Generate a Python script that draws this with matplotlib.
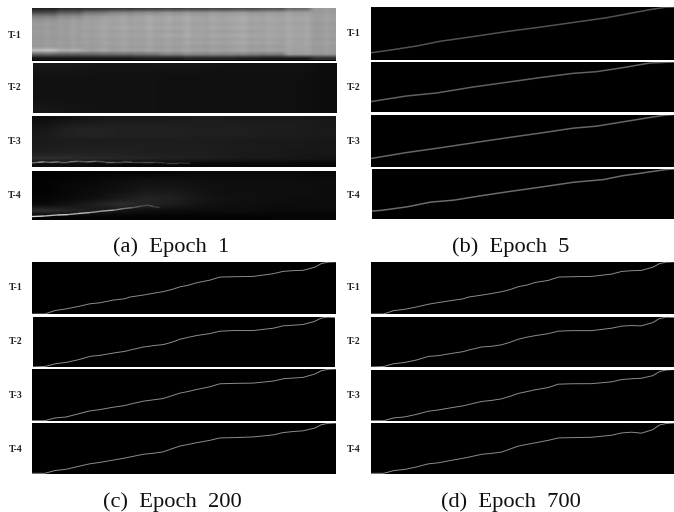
import matplotlib
matplotlib.use('Agg')
import matplotlib.pyplot as plt
import numpy as np

W, H = 674, 512

# epoch 1 heat maps, rows go top to bottom, values are gray levels
t1_map = [
    [.13,.17,.20,.22,.24,.26,.27,.28,.30,.33,.42,.60],
    [.30,.38,.46,.52,.55,.57,.58,.59,.59,.60,.61,.60],
    [.50,.55,.60,.62,.63,.64,.64,.64,.64,.64,.64,.62],
    [.58,.61,.63,.64,.65,.65,.65,.65,.65,.65,.65,.62],
    [.61,.62,.63,.63,.63,.63,.63,.63,.63,.63,.63,.60],
    [.60,.62,.64,.65,.65,.65,.65,.65,.65,.65,.65,.62],
    [.61,.62,.62,.62,.62,.62,.63,.62,.62,.63,.63,.60],
    [.60,.62,.64,.64,.64,.65,.65,.65,.65,.65,.65,.62],
    [.60,.61,.62,.62,.62,.62,.62,.62,.62,.62,.63,.60],
    [.61,.62,.63,.63,.63,.63,.64,.64,.64,.64,.64,.62],
    [.60,.61,.61,.61,.61,.61,.61,.61,.61,.61,.63,.60],
    [.74,.68,.64,.63,.63,.63,.63,.63,.63,.63,.63,.61],
    [.40,.38,.40,.42,.44,.50,.52,.52,.50,.48,.60,.58],
    [.08,.09,.10,.10,.12,.12,.14,.14,.12,.10,.10,.18],
]
t1_stripes = [1.0,.99,1.02,.99,1.0,.98,1.02,.99,1.0,.98,1.0,1.03,.99,1.0,1.03,.99,
              1.0,.99,1.04,1.0,.99,1.03,.99,1.0,1.04,.99,1.0,.98,1.02,1.0,.99,1.01,
              1.02,1.04,.99,1.0,.99,1.02,1.0,.99,1.03,1.0,1.0,1.02,1.0,1.0,1.03,1.0]
t2_map = [
    [.09,.09,.08,.08,.08,.08,.08,.07,.07,.07,.07,.05],
    [.07,.07,.07,.07,.07,.06,.06,.06,.06,.06,.06,.05],
    [.07,.07,.07,.07,.07,.06,.06,.06,.06,.06,.06,.05],
    [.07,.07,.07,.07,.07,.06,.06,.06,.06,.06,.06,.05],
    [.07,.07,.07,.07,.07,.06,.06,.06,.06,.06,.06,.05],
    [.09,.08,.07,.07,.07,.06,.06,.06,.06,.06,.06,.05],
]
t3_map = [
    [.05,.07,.09,.10,.10,.10,.11,.11,.10,.10,.10,.09],
    [.07,.10,.11,.12,.12,.12,.12,.12,.11,.11,.11,.10],
    [.09,.13,.14,.13,.13,.13,.12,.12,.12,.11,.11,.10],
    [.10,.13,.14,.13,.13,.13,.12,.12,.12,.11,.11,.10],
    [.10,.11,.11,.11,.11,.11,.11,.11,.10,.10,.10,.09],
    [.11,.12,.12,.12,.12,.12,.12,.11,.11,.10,.10,.09],
    [.12,.13,.13,.13,.12,.12,.12,.11,.10,.10,.09,.09],
    [.18,.17,.16,.15,.14,.13,.12,.11,.10,.10,.09,.08],
    [.05,.05,.04,.03,.03,.03,.03,.03,.03,.03,.03,.03],
]
t4_map = [
    [.00,.01,.01,.02,.02,.03,.04,.04,.04,.04,.04,.03],
    [.01,.02,.03,.05,.06,.06,.06,.05,.05,.05,.05,.05],
    [.01,.03,.04,.06,.08,.08,.07,.06,.06,.06,.06,.05],
    [.01,.03,.05,.07,.10,.10,.08,.06,.06,.06,.06,.05],
    [.02,.04,.06,.10,.14,.13,.09,.07,.06,.06,.05,.05],
    [.04,.07,.12,.18,.14,.11,.08,.06,.06,.05,.05,.05],
    [.18,.14,.10,.08,.06,.05,.05,.05,.05,.04,.04,.04],
    [.01,.01,.01,.01,.01,.01,.01,.01,.01,.02,.02,.02],
]

# faint bright ridge at the lower left of T-3 and T-4 (epoch 1)
ridge3_x = [0, 2, 4, 6, 9, 12, 15, 18, 21, 24, 27, 30, 33, 36, 40, 44, 48, 52]
ridge3_y = [8, 9, 10, 9, 10, 10, 11, 10, 11, 10, 10, 10, 9, 9, 9, 8, 8, 7]
ridge3_g = [.45, .62, .42, .5, .38, .46, .36, .44, .32, .4, .3, .36, .26, .3, .22, .24, .18, .16]
ridge4_x = [0, 4, 8, 12, 15, 19, 23, 27, 30, 33, 36, 38, 40, 42]
ridge4_y = [7, 8, 10, 11, 13, 15, 18, 20, 23, 25, 28, 30, 27, 25]
ridge4_g = [.85, .72, .8, .68, .74, .62, .66, .52, .46, .36, .3, .32, .24, .16]

# epoch 5 curves
b_x = [[0, 6.3, 15, 22.7, 33.7, 44.7, 55.7, 66.7, 77.7, 85.4, 92, 97, 100],
       [0, 4, 11.7, 21.6, 33.7, 44.7, 55.7, 66.7, 74.5, 83.2, 92, 100],
       [0, 11.8, 22.8, 33.7, 44.7, 55.7, 66.7, 74.5, 83.2, 92, 97, 100],
       [0, 3, 11.8, 19.4, 27.1, 36, 44.7, 55.7, 66.7, 76.6, 83.2, 88.8, 97, 100]]
b_y = [[12.8, 17.9, 25.6, 34.6, 43.6, 53.2, 61.5, 70.5, 79.5, 87.8, 94.9, 99.4, 100],
       [20.7, 24.7, 32, 38, 50, 59.3, 68.7, 77.3, 80.7, 88.7, 98, 100],
       [15.4, 26.9, 35.9, 45.5, 55.1, 64.1, 73.7, 77.6, 85.9, 94.2, 98.7, 100],
       [15.9, 17.2, 24.5, 33.8, 37.7, 46.4, 54.3, 63.6, 73.5, 78.8, 86.8, 91.4, 98.7, 100]]
b_gray = [.32, .38, .4, .42]

# epoch 200 and 700 curves share the same x
curve_x = [0, 4.2, 7.5, 11.2, 15.1, 19, 22.3, 26.7, 30.5, 32.2, 36.6, 39.8, 43.1, 45.9, 48.6,
           51.4, 54.1, 58.5, 61.8, 66.2, 72.8, 79.4, 82.7, 86, 89.2, 93, 95.2, 97.4, 100]
c_y = [[0, 0, 6.5, 9.7, 14.2, 19.4, 21.3, 26.5, 29, 32.3, 36.1, 39.4, 42.6, 46.5, 51.6,
        54.8, 59.4, 64.5, 70.3, 71, 71.6, 76.8, 81.3, 82.6, 83.2, 89, 96.1, 98.7, 99.4],
       [0, 1.3, 6.6, 9.3, 14.6, 21.2, 23.2, 27.8, 31.1, 33.8, 39.7, 42.4, 44.4, 49, 55,
        58.9, 62.3, 66.2, 70.9, 72.2, 72.2, 76.8, 81.5, 82.8, 84.1, 90.1, 96.7, 98.7, 98],
       [.6, .6, 5.8, 7.7, 13.5, 19.4, 21.9, 26.5, 29.7, 32.3, 38.1, 40.6, 43.2, 48.4, 53.5,
        56.8, 60.6, 65.8, 71.6, 72.3, 72.9, 76.8, 81.3, 82.6, 83.9, 90.3, 96.8, 99.4, 100],
       [1.3, 1.3, 6.7, 9.3, 14.7, 20, 22.7, 27.3, 31.3, 33.3, 38.7, 40.7, 43.3, 49.3, 54.7,
        58, 61.3, 66, 70.7, 71.3, 72.7, 76.7, 81.3, 83.3, 84.7, 90, 96.7, 99.3, 100]]
d_y = [[0, 0, 6.5, 9, 13.5, 18.7, 21.9, 25.8, 29, 32.3, 36, 39, 42.5, 46.5, 52,
        55, 60, 64, 70.3, 71, 71.6, 76, 81, 82.5, 83, 89, 96, 98.7, 99.4],
       [0, 1, 6.6, 9, 14, 21, 22.5, 27, 30.5, 33.5, 39.7, 41, 44, 49, 55,
        59, 62, 66, 71, 72, 72, 76.8, 81, 82, 81.5, 88, 96, 98.7, 98],
       [.6, .6, 6, 8, 13, 19, 21.5, 26, 29.5, 32, 38, 40, 43, 48, 53.5,
        57, 60.5, 65, 71.5, 72.3, 72.5, 76, 80.5, 82, 83, 88, 96, 99, 100],
       [1.3, 1.3, 6.7, 9, 14, 20, 22, 27, 31, 33, 38.7, 40.5, 43, 49, 54.7,
        58, 61, 66, 70.7, 71.3, 72, 76, 80.5, 82, 80, 87, 96, 99, 100]]

track_labels = ['T-1', 'T-2', 'T-3', 'T-4']
captions = ['(a)  Epoch  1', '(b)  Epoch  5', '(c)  Epoch  200', '(d)  Epoch  700']

plt.rcParams['font.family'] = 'Liberation Serif'
fig = plt.figure(figsize=(W / 100, H / 100), dpi=100, facecolor='white')


def panel(x0, x1, y0, y1):
    # pixel box, y measured from the top of the picture
    ax = fig.add_axes([x0 / W, 1 - y1 / H, (x1 - x0) / W, (y1 - y0) / H])
    ax.set_facecolor('black')
    ax.set_xlim(0, 100)
    ax.set_ylim(0, 100)
    ax.axis('off')
    ax.add_patch(plt.Rectangle((0, 0), 100, 100, color='black', zorder=0))
    return ax


def label(x, y, s):
    fig.text(x / W, 1 - y / H, s, fontsize=7, fontweight='bold', color='#222222',
             ha='center', va='center')


def heat(ax, m):
    ax.imshow(m, cmap='gray', vmin=0, vmax=1, aspect='auto', extent=(0, 100, 0, 100),
              interpolation='bilinear', zorder=1)
    ax.set_xlim(0, 100)
    ax.set_ylim(0, 100)


def ridge(ax, xs, ys, gs):
    for i in range(len(xs) - 1):
        g = gs[i]
        ax.plot(xs[i:i + 2], ys[i:i + 2], color=(g, g, g), lw=1.0, zorder=2,
                solid_capstyle='butt')


# (a)
rows_a = [(32, 336, 8, 60.5), (32.5, 336, 63, 113), (32, 336, 115.5, 167), (32, 336, 170.5, 220)]
t1_img = np.repeat(np.array(t1_map), 4, axis=1) * np.array(t1_stripes)
maps = [t1_img, t2_map, t3_map, t4_map]
for i, box in enumerate(rows_a):
    ax = panel(*box)
    heat(ax, np.clip(maps[i], 0, 1))
    if i == 2:
        ridge(ax, ridge3_x, ridge3_y, ridge3_g)
    if i == 3:
        ridge(ax, ridge4_x, ridge4_y, ridge4_g)
for lab, y in zip(track_labels, [35, 88, 142, 196]):
    label(15, y, lab)

# (b)
rows_b = [(371, 674, 7, 59.5), (371, 674, 62, 112), (371, 674, 114.5, 166.5), (372, 674, 169, 219)]
for i, box in enumerate(rows_b):
    ax = panel(*box)
    ax.plot(b_x[i], b_y[i], color=str(b_gray[i]), lw=1.1, zorder=2)
for lab, y in zip(track_labels, [34, 87, 141, 195]):
    label(354, y, lab)

# (c)
rows_c = [(32, 336, 261.5, 314), (33, 335.5, 316.5, 367), (32, 336, 369, 421), (32, 336, 423, 474)]
for i, box in enumerate(rows_c):
    ax = panel(*box)
    ax.plot(curve_x, c_y[i], color='0.55', lw=.7, zorder=2)
for lab, y in zip(track_labels, [288, 341, 395, 449]):
    label(15.5, y, lab)

# (d)
rows_d = [(371, 674, 261.5, 314), (371, 674, 316.5, 367), (371, 674, 369.5, 421), (371, 674, 423, 474)]
for i, box in enumerate(rows_d):
    ax = panel(*box)
    ax.plot(curve_x, d_y[i], color='0.55', lw=.7, zorder=2)
for lab, y in zip(track_labels, [288, 342, 395.5, 449]):
    label(354, y, lab)

for s, x, y in zip(captions, [171.5, 511, 172, 511], [247, 247, 502, 502]):
    fig.text(x / W, 1 - y / H, s, fontsize=16.2, color='#111111', ha='center', va='center')

fig.savefig('out.png', dpi=100)
